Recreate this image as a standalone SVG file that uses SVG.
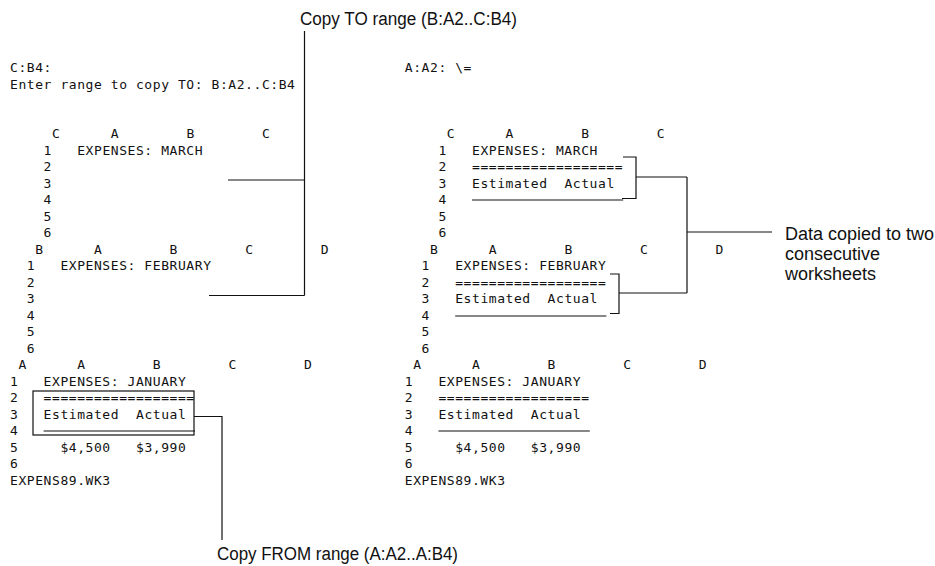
<svg xmlns="http://www.w3.org/2000/svg" width="935" height="566" viewBox="0 0 935 566">
<style>
.m{font-family:"DejaVu Sans Mono","Liberation Mono",monospace;font-size:13px;letter-spacing:0.57px;fill:#111}
.lbl{font-family:"Liberation Sans",Arial,sans-serif;font-size:18px;fill:#111}
.ln{fill:none;stroke:#111;stroke-width:1.2}
</style>
<rect width="935" height="566" fill="#fff"/>

<g id="left-prompt">
<text class="m" x="10" y="72">C:B4:</text>
<text class="m" x="10" y="88.5">Enter range to copy TO: B:A2..C:B4</text>
</g>

<g id="left-sheet-C">
<text class="m" x="52" y="138">C</text><text class="m" x="110.8" y="138">A</text><text class="m" x="186.4" y="138">B</text><text class="m" x="262" y="138">C</text>
<text class="m" x="43.6" y="154.5">1</text><text class="m" x="77.2" y="154.5">EXPENSES: MARCH</text>
<text class="m" x="43.6" y="171">2</text>
<text class="m" x="43.6" y="187.5">3</text>
<text class="m" x="43.6" y="204">4</text>
<text class="m" x="43.6" y="220.5">5</text>
<text class="m" x="43.6" y="237">6</text>
</g>

<g id="left-sheet-B">
<text class="m" x="35.2" y="253.5">B</text><text class="m" x="94" y="253.5">A</text><text class="m" x="169.6" y="253.5">B</text><text class="m" x="245.2" y="253.5">C</text><text class="m" x="320.8" y="253.5">D</text>
<text class="m" x="26.8" y="270">1</text><text class="m" x="60.4" y="270">EXPENSES: FEBRUARY</text>
<text class="m" x="26.8" y="286.5">2</text>
<text class="m" x="26.8" y="303">3</text>
<text class="m" x="26.8" y="319.5">4</text>
<text class="m" x="26.8" y="336">5</text>
<text class="m" x="26.8" y="352.5">6</text>
</g>

<g id="left-sheet-A">
<text class="m" x="18.4" y="369">A</text><text class="m" x="77.2" y="369">A</text><text class="m" x="152.8" y="369">B</text><text class="m" x="228.4" y="369">C</text><text class="m" x="304" y="369">D</text>
<text class="m" x="10" y="385.5">1</text><text class="m" x="43.6" y="385.5">EXPENSES: JANUARY</text>
<text class="m" x="10" y="402">2</text><text class="m" x="43.6" y="402">==================</text>
<text class="m" x="10" y="418.5">3</text><text class="m" x="43.6" y="418.5">Estimated</text><text class="m" x="136" y="418.5">Actual</text>
<text class="m" x="10" y="435">4</text><line class="ln" x1="43.6" y1="431" x2="195" y2="431"/>
<text class="m" x="10" y="451.5">5</text><text class="m" x="60.4" y="451.5">$4,500</text><text class="m" x="136" y="451.5">$3,990</text>
<text class="m" x="10" y="468">6</text>
<text class="m" x="10" y="484.5">EXPENS89.WK3</text>
<rect class="ln" x="33" y="391" width="161" height="44"/>
</g>

<g id="right-prompt">
<text class="m" x="404.8" y="72">A:A2: \=</text>
</g>

<g id="right-sheet-C" transform="translate(394.8,0)">
<text class="m" x="52" y="138">C</text><text class="m" x="110.8" y="138">A</text><text class="m" x="186.4" y="138">B</text><text class="m" x="262" y="138">C</text>
<text class="m" x="43.6" y="154.5">1</text><text class="m" x="77.2" y="154.5">EXPENSES: MARCH</text>
<text class="m" x="43.6" y="171">2</text><text class="m" x="77.2" y="171">==================</text>
<text class="m" x="43.6" y="187.5">3</text><text class="m" x="77.2" y="187.5">Estimated</text><text class="m" x="169.6" y="187.5">Actual</text>
<text class="m" x="43.6" y="204">4</text><line class="ln" x1="77.2" y1="200" x2="228.4" y2="200"/>
<text class="m" x="43.6" y="220.5">5</text>
<text class="m" x="43.6" y="237">6</text>
</g>

<g id="right-sheet-B" transform="translate(394.8,0)">
<text class="m" x="35.2" y="253.5">B</text><text class="m" x="94" y="253.5">A</text><text class="m" x="169.6" y="253.5">B</text><text class="m" x="245.2" y="253.5">C</text><text class="m" x="320.8" y="253.5">D</text>
<text class="m" x="26.8" y="270">1</text><text class="m" x="60.4" y="270">EXPENSES: FEBRUARY</text>
<text class="m" x="26.8" y="286.5">2</text><text class="m" x="60.4" y="286.5">==================</text>
<text class="m" x="26.8" y="303">3</text><text class="m" x="60.4" y="303">Estimated</text><text class="m" x="152.8" y="303">Actual</text>
<text class="m" x="26.8" y="319.5">4</text><line class="ln" x1="60.4" y1="316" x2="211.6" y2="316"/>
<text class="m" x="26.8" y="336">5</text>
<text class="m" x="26.8" y="352.5">6</text>
</g>

<g id="right-sheet-A" transform="translate(394.8,0)">
<text class="m" x="18.4" y="369">A</text><text class="m" x="77.2" y="369">A</text><text class="m" x="152.8" y="369">B</text><text class="m" x="228.4" y="369">C</text><text class="m" x="304" y="369">D</text>
<text class="m" x="10" y="385.5">1</text><text class="m" x="43.6" y="385.5">EXPENSES: JANUARY</text>
<text class="m" x="10" y="402">2</text><text class="m" x="43.6" y="402">==================</text>
<text class="m" x="10" y="418.5">3</text><text class="m" x="43.6" y="418.5">Estimated</text><text class="m" x="136" y="418.5">Actual</text>
<text class="m" x="10" y="435">4</text><line class="ln" x1="43.6" y1="431" x2="195" y2="431"/>
<text class="m" x="10" y="451.5">5</text><text class="m" x="60.4" y="451.5">$4,500</text><text class="m" x="136" y="451.5">$3,990</text>
<text class="m" x="10" y="468">6</text>
<text class="m" x="10" y="484.5">EXPENS89.WK3</text>
</g>

<g id="label-copy-to">
<text class="lbl" x="300" y="25" textLength="217" lengthAdjust="spacingAndGlyphs">Copy TO range (B:A2..C:B4)</text>
</g>
<g id="label-copy-from">
<text class="lbl" x="217" y="559.5" textLength="241" lengthAdjust="spacingAndGlyphs">Copy FROM range (A:A2..A:B4)</text>
</g>
<g id="label-data">
<text class="lbl" x="785" y="239.5">Data copied to two</text>
<text class="lbl" x="785" y="259.5">consecutive</text>
<text class="lbl" x="785" y="279.5">worksheets</text>
</g>

<g id="connectors">
<path class="ln" d="M304.5,31 V295.5 M228,180 H304.5 M209,295.5 H304.5"/>
<path class="ln" d="M194,416.5 H222 V540"/>
<path class="ln" d="M623,157 H636 V198.5 H622 M636,177 H687 M610,274 H619 V313.5 H610 M619,293 H687 M687,177 V293 M687,232 H772"/>
</g>
</svg>
